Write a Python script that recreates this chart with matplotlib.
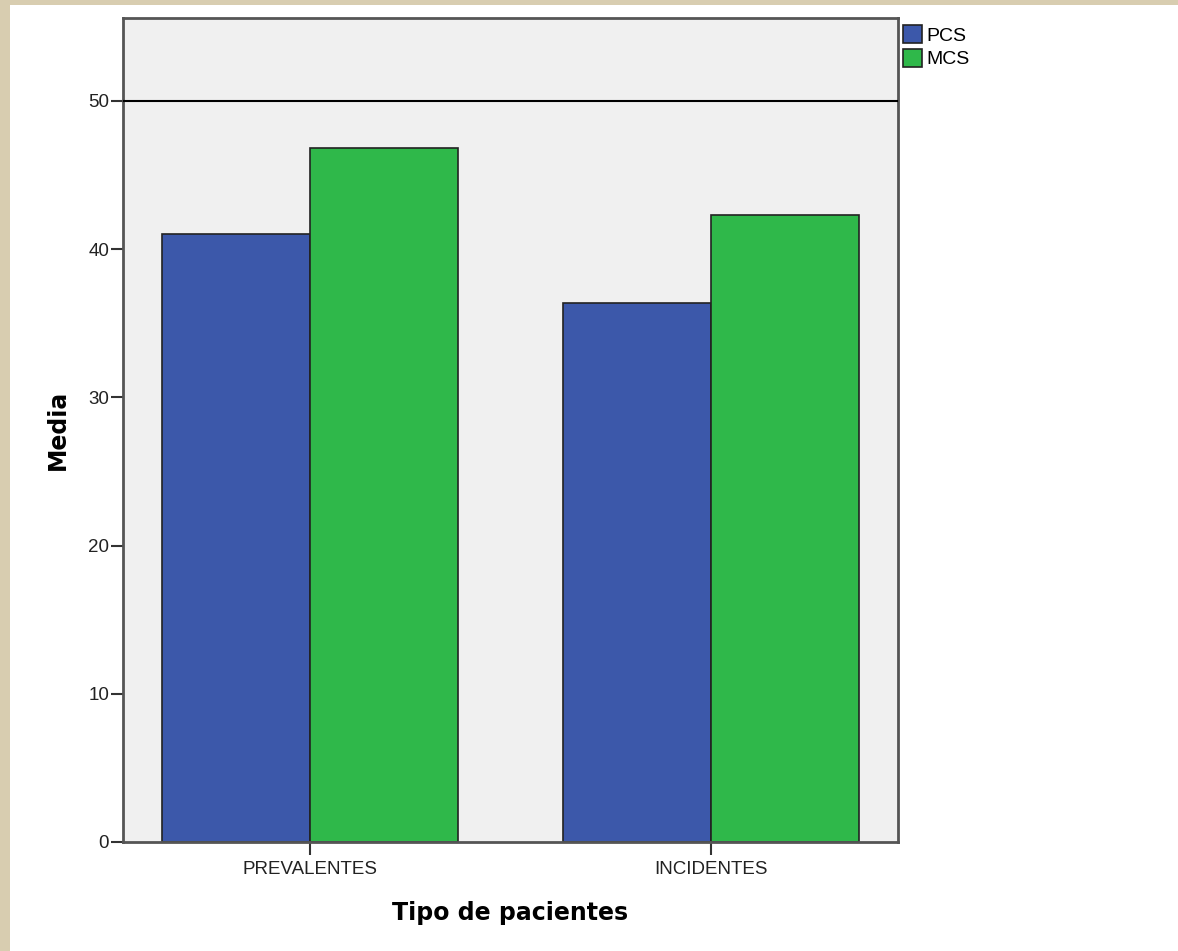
import matplotlib
matplotlib.use("Agg")
import matplotlib.pyplot as plt
from matplotlib.patches import Rectangle
import numpy as np

categories = ["PREVALENTES", "INCIDENTES"]
series_names = ["PCS", "MCS"]
pcs_values = [41.0, 36.4]
mcs_values = [46.8, 42.3]
y_ticks = [0, 10, 20, 30, 40, 50]
ref_line = 50

blue = "#3c58aa"
green = "#2fb84a"
edge = "#222222"

fig = plt.figure(figsize=(11.78, 9.51), dpi=100)
fig.patch.set_facecolor("white")
# textured beige border of the screenshot (left and top)
fig.patches.append(Rectangle((0, 0), 10 / 1178, 1, transform=fig.transFigure,
                             facecolor="#d8cdb0", edgecolor="none", zorder=0))
fig.patches.append(Rectangle((0, 1 - 5 / 951), 1, 5 / 951, transform=fig.transFigure,
                             facecolor="#d8cdb0", edgecolor="none", zorder=0))

ax = fig.add_axes([123 / 1178, 1 - 842 / 951, 775 / 1178, 824 / 951])
ax.set_facecolor("#f0f0f0")

x = np.arange(len(categories))
w = 0.369
ax.bar(x - w / 2, pcs_values, w, color=blue, edgecolor=edge, linewidth=1.2,
       label=series_names[0], zorder=2)
ax.bar(x + w / 2, mcs_values, w, color=green, edgecolor=edge, linewidth=1.2,
       label=series_names[1], zorder=2)
ax.axhline(ref_line, color="black", linewidth=1.5, zorder=3)

ax.set_xlim(-0.466, 1.466)
ax.set_ylim(0, 55.6)
ax.set_yticks(y_ticks)
ax.set_xticks(x)
ax.set_xticklabels(categories)

for lab in ax.get_xticklabels() + ax.get_yticklabels():
    lab.set_fontfamily("Liberation Sans")
    lab.set_fontsize(13.5)
    lab.set_color("#222222")
ax.tick_params(axis="both", direction="out", length=9, width=1.5, color="#333333", pad=1)
ax.tick_params(axis="x", pad=5)

for s in ax.spines.values():
    s.set_color("#555555")
    s.set_linewidth(2)

ax.set_xlabel("Tipo de pacientes", fontsize=17, fontweight="bold",
              family="DejaVu Sans", labelpad=16)
ax.set_ylabel("Media", fontsize=17, fontweight="bold", family="DejaVu Sans", labelpad=13)

leg = ax.legend(loc="upper left", bbox_to_anchor=(1.002, 0.996), frameon=False,
                prop={"family": "Liberation Sans", "size": 14},
                handlelength=0.95, handleheight=1.05, handletextpad=0.25,
                labelspacing=0.2, borderaxespad=0, borderpad=0.2)

fig.savefig("out.png", dpi=100, facecolor=fig.get_facecolor())
